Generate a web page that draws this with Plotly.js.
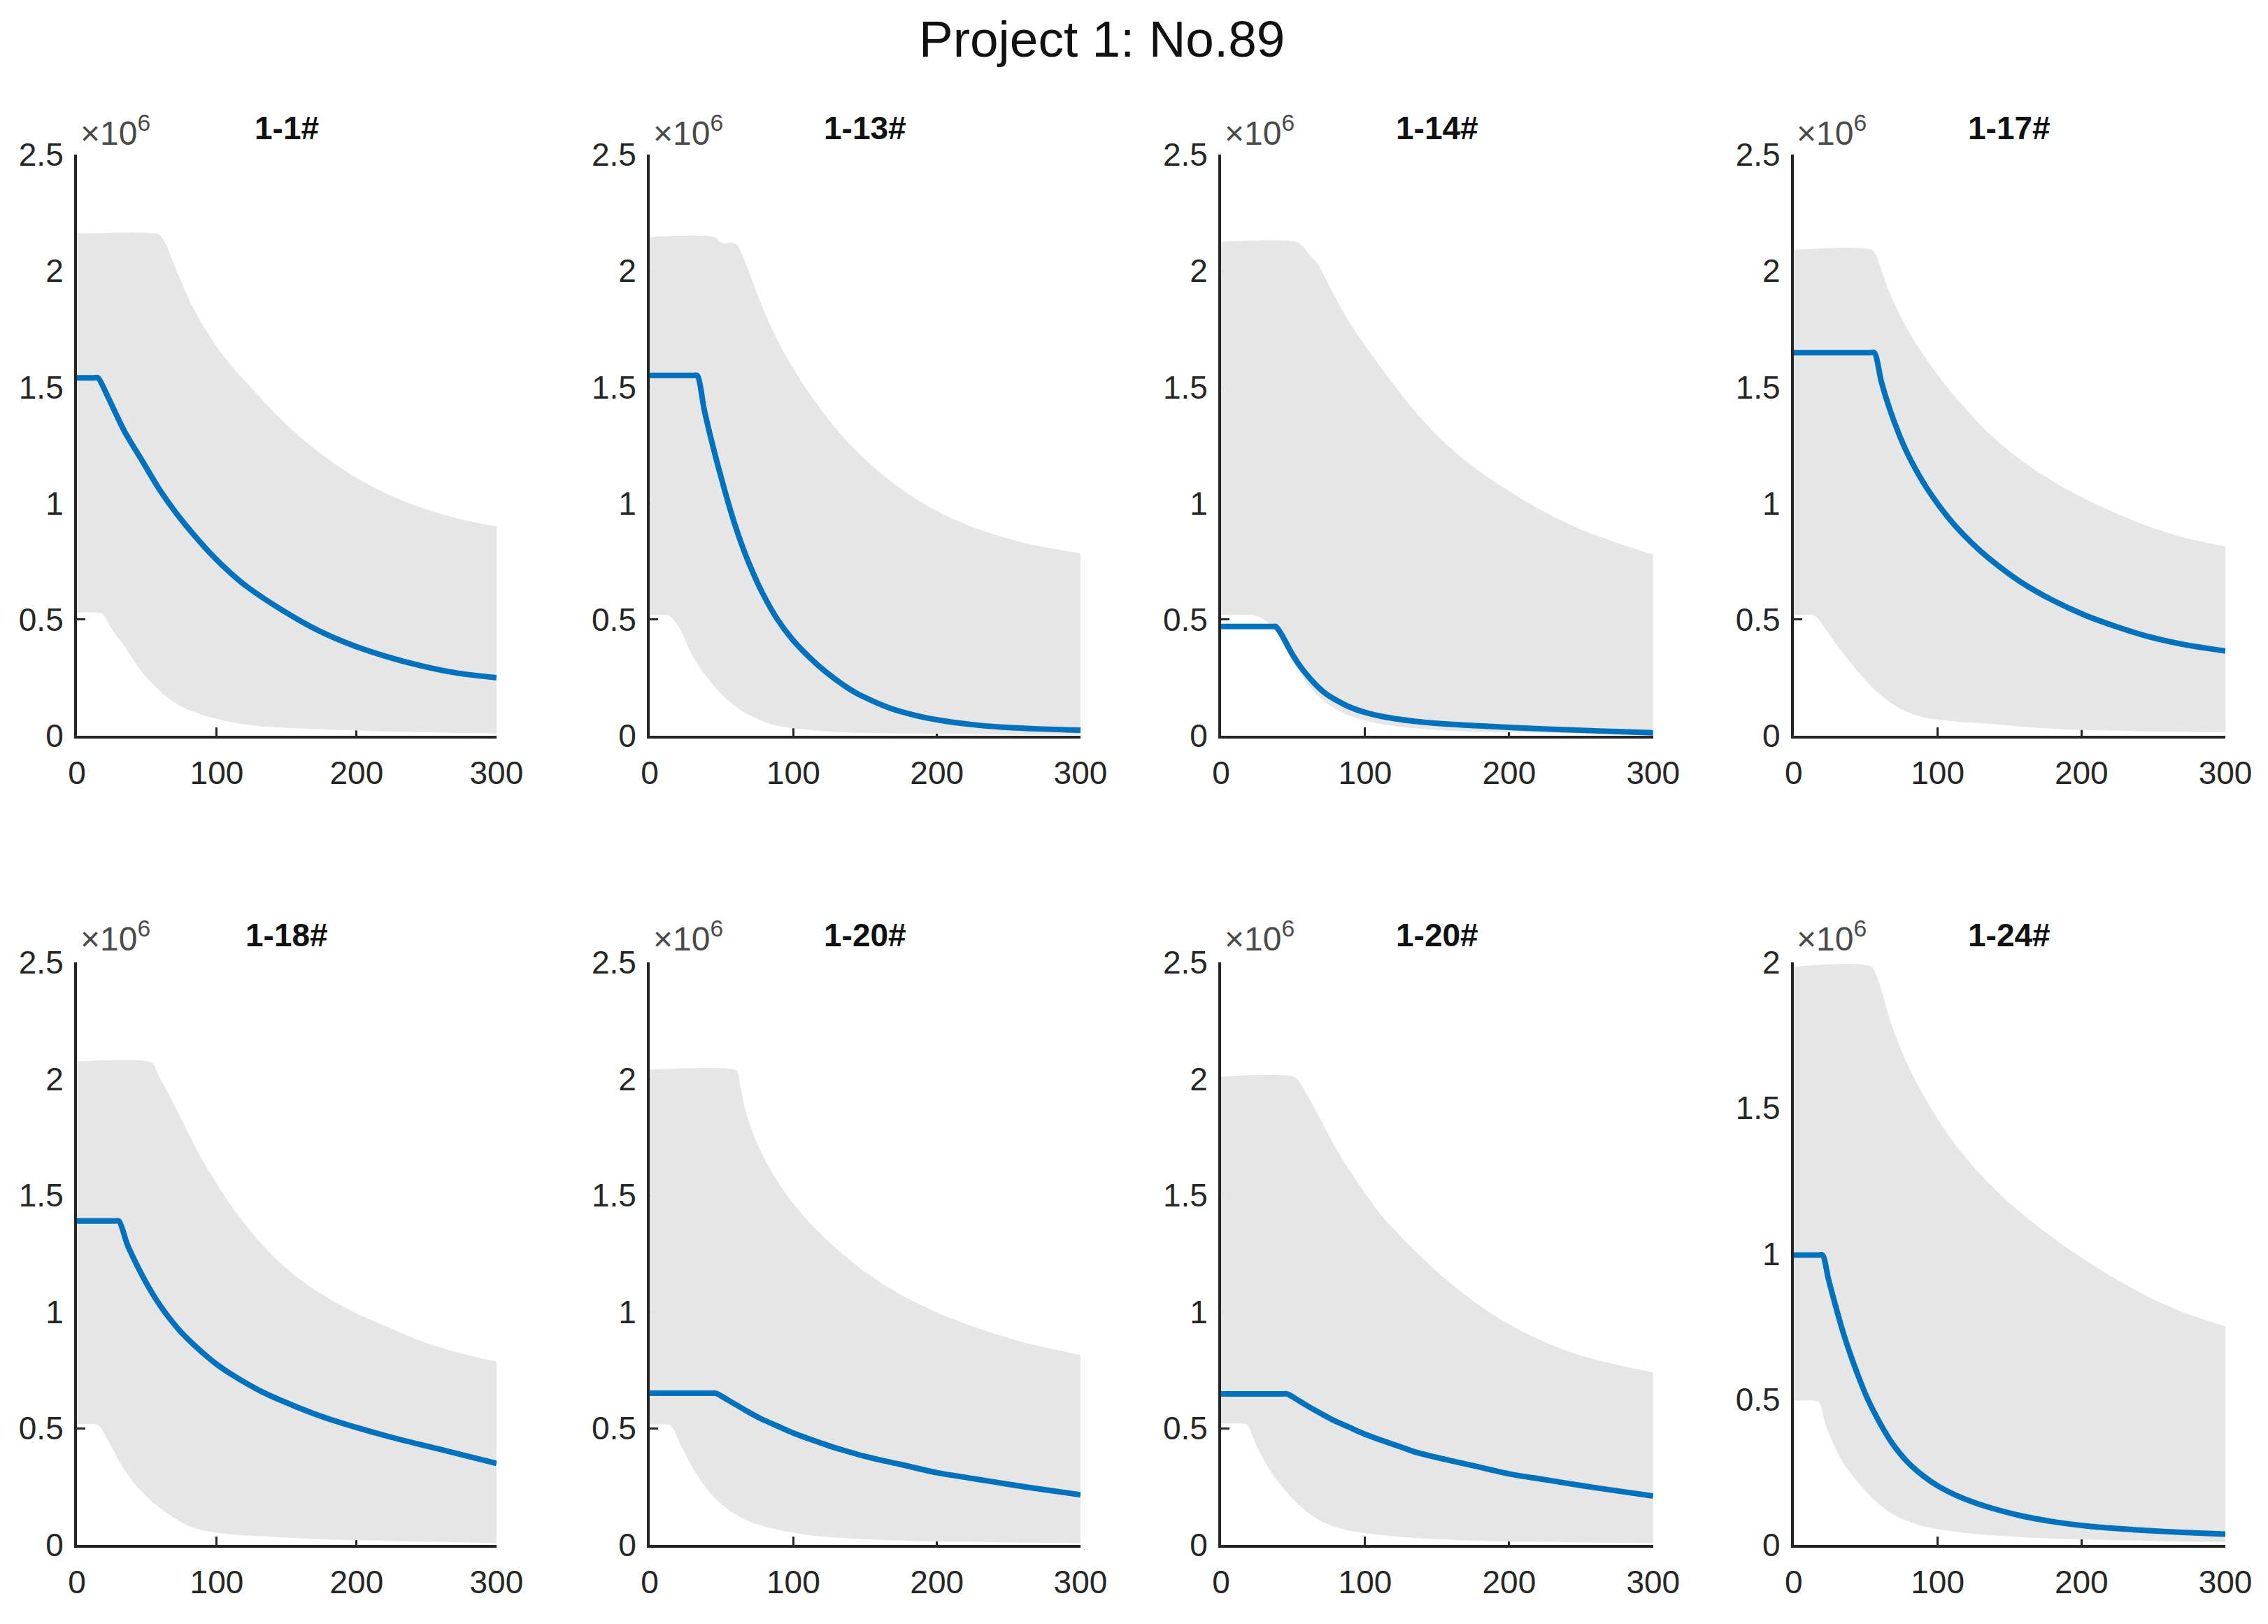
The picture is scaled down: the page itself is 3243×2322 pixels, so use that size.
<!DOCTYPE html>
<html>
<head>
<meta charset="utf-8">
<script src="https://cdn.plot.ly/plotly-3.0.1.min.js"></script>
<style>
  html, body { margin: 0; padding: 0; background: #fff; }
  #chart { width: 3243px; height: 2322px; }
</style>
</head>
<body>
<div id="chart"></div>
<script>
// values are in units of 10^6
const panelTitles = ['1-1#', '1-13#', '1-14#', '1-17#', '1-18#', '1-20#', '1-20#', '1-24#'];
const yTop = [2.5, 2.5, 2.5, 2.5, 2.5, 2.5, 2.5, 2];

// blue line of each panel
const blueX = [
  [0, 12, 15, 22, 34, 47, 59, 72, 85, 97, 110, 122, 147, 172, 197, 222, 247, 272, 300],
  [0, 30, 33, 38, 44, 50, 55, 60, 66, 72, 78, 89, 100, 112, 122, 135, 145, 167, 185, 201, 225, 246, 270, 300],
  [0, 35, 38, 42, 46, 50, 56, 62, 67, 73, 79, 90, 101, 112, 134, 157, 179, 202, 224, 250, 275, 300],
  [0, 53, 56, 61, 67, 73, 79, 90, 101, 112, 124, 135, 157, 180, 202, 225, 247, 270, 300],
  [0, 27, 30, 36, 43, 50, 57, 64, 75, 88, 100, 111, 133, 156, 178, 201, 223, 246, 270, 300],
  [0, 43, 46, 55, 66, 78, 89, 100, 111, 125, 134, 150, 175, 200, 225, 250, 275, 300],
  [0, 43, 46, 55, 66, 78, 89, 100, 111, 125, 134, 150, 175, 200, 225, 250, 275, 300],
  [0, 17, 20, 24, 28, 34, 40, 46, 51, 57, 62, 68, 79, 90, 101, 113, 124, 135, 158, 180, 202, 225, 247, 270, 300],
];
const blueY = [
  [1.54, 1.54, 1.54, 1.46, 1.31, 1.18, 1.06, 0.95, 0.855, 0.775, 0.70, 0.64, 0.54, 0.455, 0.39, 0.34, 0.30, 0.27, 0.25],
  [1.55, 1.55, 1.55, 1.40, 1.245, 1.105, 0.995, 0.895, 0.79, 0.70, 0.62, 0.50, 0.41, 0.333, 0.278, 0.218, 0.18, 0.12, 0.088, 0.068, 0.048, 0.037, 0.03, 0.024],
  [0.47, 0.47, 0.47, 0.435, 0.39, 0.345, 0.29, 0.245, 0.212, 0.18, 0.157, 0.122, 0.099, 0.083, 0.063, 0.051, 0.043, 0.036, 0.03, 0.024, 0.018, 0.013],
  [1.648, 1.648, 1.648, 1.52, 1.40, 1.30, 1.215, 1.09, 0.99, 0.905, 0.828, 0.767, 0.665, 0.583, 0.52, 0.468, 0.426, 0.394, 0.365],
  [1.39, 1.39, 1.39, 1.29, 1.20, 1.12, 1.05, 0.99, 0.91, 0.835, 0.775, 0.73, 0.655, 0.595, 0.545, 0.502, 0.465, 0.43, 0.395, 0.35],
  [0.651, 0.651, 0.651, 0.62, 0.58, 0.54, 0.51, 0.48, 0.455, 0.425, 0.408, 0.38, 0.345, 0.31, 0.285, 0.26, 0.237, 0.215],
  [0.648, 0.648, 0.648, 0.615, 0.575, 0.535, 0.505, 0.475, 0.45, 0.42, 0.40, 0.375, 0.34, 0.305, 0.28, 0.255, 0.232, 0.21],
  [0.995, 0.995, 0.995, 0.915, 0.84, 0.735, 0.645, 0.565, 0.505, 0.445, 0.40, 0.352, 0.285, 0.237, 0.20, 0.17, 0.148, 0.13, 0.10, 0.08, 0.066, 0.056, 0.049, 0.043, 0.037],
];

// top edge of the grey bundle
const upperX = [
  [0, 56, 60, 64, 68, 72, 84, 97, 110, 122, 147, 172, 197, 222, 247, 272, 300],
  [0, 45, 48, 50, 58, 61, 65, 70, 78, 89, 100, 112, 134, 157, 179, 202, 224, 246, 268, 300],
  [0, 52, 56, 60, 67, 78, 90, 101, 112, 134, 157, 180, 202, 224, 247, 275, 300],
  [0, 54, 57, 60, 67, 78, 90, 101, 112, 135, 157, 180, 202, 225, 247, 270, 300],
  [0, 51, 55, 58, 66, 77, 88, 100, 111, 133, 156, 178, 201, 224, 246, 270, 300],
  [0, 59, 61, 63, 66, 70, 78, 89, 100, 111, 134, 156, 179, 201, 224, 246, 270, 300],
  [0, 50, 54, 58, 67, 78, 90, 101, 112, 135, 157, 180, 202, 225, 246, 270, 300],
  [0, 54, 57, 60, 64, 68, 79, 90, 101, 113, 135, 158, 180, 202, 225, 247, 270, 300],
];
const upperY = [
  [2.16, 2.16, 2.15, 2.11, 2.05, 1.99, 1.83, 1.70, 1.595, 1.515, 1.355, 1.225, 1.12, 1.04, 0.98, 0.935, 0.90],
  [2.145, 2.145, 2.13, 2.12, 2.12, 2.11, 2.06, 1.98, 1.85, 1.70, 1.58, 1.465, 1.29, 1.15, 1.045, 0.96, 0.90, 0.855, 0.82, 0.785],
  [2.125, 2.125, 2.11, 2.08, 2.03, 1.90, 1.77, 1.67, 1.575, 1.40, 1.25, 1.135, 1.045, 0.965, 0.895, 0.83, 0.78],
  [2.09, 2.09, 2.07, 2.02, 1.90, 1.76, 1.64, 1.545, 1.46, 1.305, 1.19, 1.095, 1.02, 0.955, 0.90, 0.855, 0.815],
  [2.075, 2.075, 2.06, 2.02, 1.93, 1.80, 1.67, 1.55, 1.45, 1.285, 1.155, 1.065, 0.99, 0.93, 0.875, 0.83, 0.786],
  [2.04, 2.04, 2.03, 1.97, 1.88, 1.80, 1.68, 1.56, 1.465, 1.385, 1.25, 1.145, 1.06, 0.995, 0.94, 0.895, 0.855, 0.815],
  [2.01, 2.01, 1.99, 1.95, 1.85, 1.72, 1.60, 1.50, 1.41, 1.26, 1.135, 1.025, 0.94, 0.87, 0.82, 0.78, 0.74],
  [1.985, 1.985, 1.96, 1.92, 1.85, 1.785, 1.65, 1.545, 1.455, 1.37, 1.245, 1.14, 1.055, 0.98, 0.91, 0.85, 0.80, 0.75],
];

// bottom edge of the grey bundle
const lowerX = [
  [0, 15, 18, 25, 34, 47, 60, 72, 85, 97, 122, 147, 172, 222, 300],
  [0, 11, 14, 21, 27, 33, 44, 55, 66, 78, 89, 112, 134, 180, 240, 300],
  [0, 19, 22, 30, 38, 45, 56, 67, 78, 90, 112, 150, 200, 300],
  [0, 12, 15, 22, 30, 45, 56, 67, 78, 90, 112, 135, 180, 240, 300],
  [0, 13, 16, 24, 32, 43, 55, 66, 77, 88, 111, 133, 170, 220, 300],
  [0, 12, 15, 23, 33, 44, 55, 66, 78, 89, 111, 134, 180, 240, 300],
  [0, 15, 18, 25, 34, 45, 56, 67, 78, 90, 112, 135, 180, 240, 300],
  [0, 14.5, 17.5, 23, 34, 45.5, 57, 68, 79, 90, 113, 135, 180, 240, 300],
];
const lowerY = [
  [0.53, 0.53, 0.525, 0.46, 0.385, 0.27, 0.19, 0.135, 0.10, 0.077, 0.048, 0.035, 0.029, 0.019, 0.01],
  [0.52, 0.52, 0.515, 0.46, 0.38, 0.31, 0.22, 0.15, 0.10, 0.065, 0.043, 0.025, 0.015, 0.01, 0.007, 0.005],
  [0.52, 0.52, 0.52, 0.50, 0.45, 0.37, 0.26, 0.175, 0.12, 0.085, 0.05, 0.025, 0.015, 0.005],
  [0.52, 0.52, 0.515, 0.46, 0.39, 0.274, 0.20, 0.144, 0.105, 0.08, 0.062, 0.052, 0.03, 0.02, 0.015],
  [0.518, 0.518, 0.51, 0.43, 0.342, 0.25, 0.18, 0.13, 0.09, 0.065, 0.045, 0.037, 0.025, 0.018, 0.008],
  [0.517, 0.517, 0.51, 0.41, 0.30, 0.21, 0.15, 0.11, 0.082, 0.065, 0.042, 0.03, 0.018, 0.012, 0.008],
  [0.52, 0.52, 0.515, 0.42, 0.32, 0.23, 0.16, 0.11, 0.08, 0.06, 0.042, 0.03, 0.018, 0.012, 0.008],
  [0.495, 0.495, 0.49, 0.40, 0.285, 0.21, 0.15, 0.108, 0.082, 0.064, 0.045, 0.034, 0.022, 0.015, 0.01],
];

const colDomains = [[0.0339, 0.2189], [0.2865, 0.4764], [0.5384, 0.7289], [0.7909, 0.9812]];
const rowDomains = [[0.5469, 0.9048], [0.0487, 0.4074]];
const titleY = [0.9212, 0.4242];
const expY = [0.9195, 0.4235];

const font = 'Liberation Sans, Arial, Helvetica, sans-serif';
const axisColor = '#262626';
const grey = '#e6e6e6';

const data = [];
const layout = {
  width: 3243,
  height: 2322,
  margin: { l: 0, r: 0, t: 0, b: 0 },
  paper_bgcolor: '#ffffff',
  plot_bgcolor: 'rgba(0,0,0,0)',
  showlegend: false,
  font: { family: font, color: axisColor },
  annotations: [
    {
      text: 'Project 1: No.89',
      xref: 'paper', yref: 'paper',
      x: 0.4857, y: 0.976,
      xanchor: 'center', yanchor: 'middle',
      showarrow: false,
      font: { family: font, size: 73, color: '#111111' },
    },
  ],
};

panelTitles.forEach((title, i) => {
  const n = i + 1;
  const xa = n === 1 ? 'x' : 'x' + n;
  const ya = n === 1 ? 'y' : 'y' + n;
  const col = colDomains[i % 4];
  const row = rowDomains[Math.floor(i / 4)];

  // grey bundle: bottom edge first, then top edge filled down to it
  data.push({
    x: lowerX[i],
    y: lowerY[i],
    xaxis: xa,
    yaxis: ya,
    type: 'scatter',
    mode: 'lines',
    line: { width: 0, color: grey, shape: 'spline', smoothing: 1 },
    hoverinfo: 'skip',
  });
  data.push({
    x: upperX[i],
    y: upperY[i],
    xaxis: xa,
    yaxis: ya,
    type: 'scatter',
    mode: 'lines',
    fill: 'tonexty',
    fillcolor: grey,
    line: { width: 0, color: grey, shape: 'spline', smoothing: 1 },
    hoverinfo: 'skip',
  });

  data.push({
    x: blueX[i],
    y: blueY[i],
    xaxis: xa,
    yaxis: ya,
    type: 'scatter',
    mode: 'lines',
    line: { color: '#0072BD', width: 8, shape: 'spline', smoothing: 0.8 },
  });

  layout['xaxis' + (n === 1 ? '' : n)] = {
    domain: col,
    anchor: ya,
    range: [0, 300],
    tickvals: [0, 100, 200, 300],
    ticks: 'inside',
    ticklen: 12,
    tickwidth: 3,
    tickcolor: axisColor,
    showline: true,
    linecolor: axisColor,
    linewidth: 4,
    showgrid: false,
    zeroline: false,
    layer: 'below traces',
    ticklabelstandoff: 10,
    tickfont: { family: font, size: 46, color: axisColor },
  };

  layout['yaxis' + (n === 1 ? '' : n)] = {
    domain: row,
    anchor: xa,
    range: [0, yTop[i]],
    dtick: 0.5,
    ticks: 'inside',
    ticklen: 12,
    tickwidth: 3,
    tickcolor: axisColor,
    showline: true,
    linecolor: axisColor,
    linewidth: 4,
    showgrid: false,
    zeroline: false,
    layer: 'below traces',
    ticklabelstandoff: 6,
    tickfont: { family: font, size: 46, color: axisColor },
  };

  layout.annotations.push({
    text: '<b>' + title + '</b>',
    xref: 'paper', yref: 'paper',
    x: (col[0] + col[1]) / 2,
    y: titleY[Math.floor(i / 4)],
    xanchor: 'center', yanchor: 'middle',
    showarrow: false,
    font: { family: font, size: 46, color: '#111111' },
  });

  layout.annotations.push({
    text: '×10<sup>6</sup>',
    xref: 'paper', yref: 'paper',
    x: col[0] + 0.0008,
    y: expY[Math.floor(i / 4)],
    xanchor: 'left', yanchor: 'middle',
    showarrow: false,
    font: { family: font, size: 48, color: '#4a4a4a' },
  });
});

Plotly.newPlot('chart', data, layout, { staticPlot: true });
</script>
</body>
</html>
